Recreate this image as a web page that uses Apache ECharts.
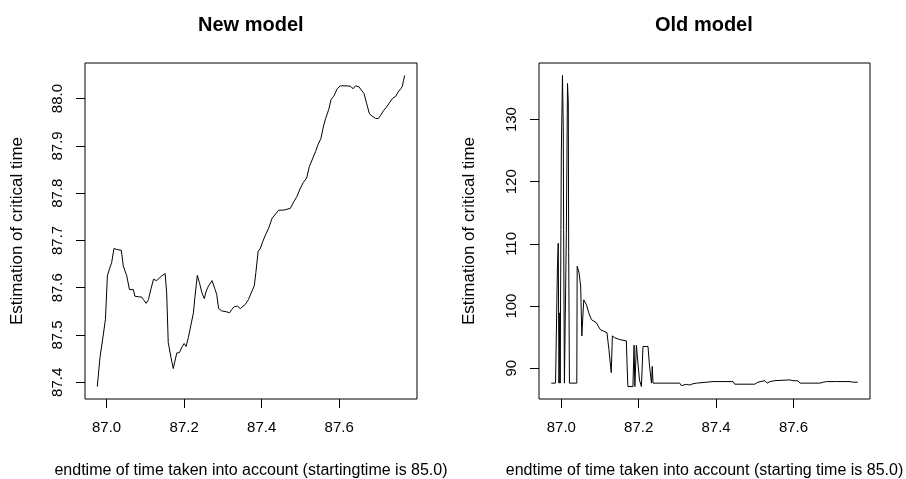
<!DOCTYPE html>
<html>
<head>
<meta charset="utf-8">
<script src="https://cdn.jsdelivr.net/npm/echarts@6/dist/echarts.min.js"></script>
<style>html,body{margin:0;padding:0;background:#fff}#c{width:906px;height:479px}</style>
</head>
<body>
<div id="c"></div>
<script>
// New model
const newX = [86.976,86.983,86.991,86.997,87.002,87.007,87.013,87.019,87.026,87.038,87.043,87.052,87.059,87.062,87.069,87.073,87.082,87.091,87.095,87.102,87.108,87.114,87.121,87.129,87.142,87.151,87.155,87.159,87.166,87.172,87.181,87.188,87.194,87.200,87.205,87.211,87.217,87.224,87.228,87.234,87.240,87.246,87.252,87.257,87.263,87.272,87.280,87.284,87.289,87.297,87.310,87.317,87.323,87.329,87.338,87.345,87.349,87.358,87.366,87.375,87.381,87.385,87.391,87.397,87.403,87.410,87.418,87.427,87.434,87.444,87.453,87.461,87.474,87.483,87.491,87.500,87.507,87.516,87.523,87.530,87.539,87.545,87.553,87.559,87.565,87.573,87.579,87.586,87.595,87.603,87.621,87.629,87.636,87.642,87.651,87.657,87.664,87.671,87.678,87.685,87.694,87.701,87.707,87.714,87.722,87.728,87.737,87.746,87.752,87.759,87.763,87.766,87.769];
const newY = [87.391,87.453,87.498,87.533,87.625,87.639,87.653,87.683,87.681,87.679,87.646,87.625,87.596,87.593,87.596,87.582,87.581,87.580,87.575,87.567,87.575,87.596,87.618,87.615,87.625,87.630,87.589,87.484,87.453,87.429,87.462,87.463,87.474,87.482,87.476,87.495,87.519,87.547,87.582,87.626,87.609,87.589,87.577,87.593,87.604,87.615,87.596,87.586,87.556,87.551,87.549,87.547,87.554,87.560,87.561,87.556,87.556,87.565,87.575,87.593,87.604,87.632,87.677,87.684,87.698,87.712,87.726,87.747,87.754,87.764,87.764,87.765,87.768,87.782,87.793,87.811,87.822,87.832,87.856,87.870,87.888,87.902,87.916,87.940,87.958,87.977,87.998,88.005,88.021,88.027,88.027,88.026,88.021,88.027,88.025,88.018,88.011,87.989,87.968,87.963,87.958,87.958,87.965,87.974,87.982,87.989,88.000,88.005,88.014,88.021,88.026,88.039,88.049];
// Old model
const oldX = [86.974,86.985,86.986,86.988,86.990,86.992,86.994,86.996,86.997,86.999,87.000,87.003,87.005,87.006,87.008,87.011,87.013,87.016,87.018,87.019,87.021,87.040,87.041,87.046,87.050,87.053,87.058,87.065,87.071,87.078,87.091,87.095,87.101,87.108,87.118,87.123,87.129,87.132,87.138,87.151,87.168,87.170,87.172,87.185,87.188,87.190,87.194,87.198,87.202,87.207,87.211,87.224,87.228,87.233,87.235,87.237,87.306,87.310,87.323,87.332,87.340,87.349,87.392,87.444,87.448,87.500,87.508,87.513,87.526,87.532,87.539,87.552,87.590,87.599,87.603,87.612,87.617,87.651,87.655,87.668,87.677,87.685,87.711,87.715,87.746,87.750,87.754,87.766];
const oldY = [87.6,87.6,91.0,98.9,106.3,110.1,87.6,98.9,87.6,112.3,124.6,137.1,128.8,112.3,87.6,87.6,111.7,135.8,132.8,108.8,87.6,87.6,106.4,105.3,103.2,95.2,101.0,100.2,98.9,97.8,97.3,96.8,96.2,96.0,95.7,93.0,89.3,95.2,94.9,94.6,94.4,90.5,87.05,87.05,93.7,87.05,93.7,90.8,88.1,87.05,93.5,93.5,90.3,87.6,90.3,87.6,87.6,87.2,87.4,87.3,87.5,87.6,87.85,87.85,87.43,87.43,87.75,87.6,88.0,87.6,87.85,88.0,88.12,88.0,88.17,87.96,87.6,87.6,87.85,87.6,87.75,87.85,87.85,87.96,87.85,88.0,87.75,87.75];

const xTicks = [87.0, 87.2, 87.4, 87.6];
const newYTicks = [87.4, 87.5, 87.6, 87.7, 87.8, 87.9, 88.0];
const oldYTicks = [90, 100, 110, 120, 130];

const titles = ['New model', 'Old model'];
const xTitles = ['endtime of time taken into account (startingtime is 85.0)',
                 'endtime of time taken into account (starting time is 85.0)'];
const yTitle = 'Estimation of critical time';

function ext(arr) {
  const mn = Math.min(...arr), mx = Math.max(...arr), r = mx - mn;
  return [mn - 0.04 * r, mx + 0.04 * r];
}
const FONT = 'Liberation Sans';
const [nx0, nx1] = ext(newX), [ny0, ny1] = ext(newY);
const [ox0, ox1] = ext(oldX), [oy0, oy1] = ext(oldY);

function xAxis(i, mn, mx, name) {
  return {
    type: 'value', gridIndex: i, min: mn, max: mx, position: 'bottom',
    splitLine: {show: false}, axisLine: {show: false},
    axisTick: {show: true, customValues: xTicks, length: 9, lineStyle: {color: '#000', width: 1}},
    axisLabel: {customValues: xTicks, margin: 21, color: '#000', fontFamily: FONT, fontSize: 15,
                formatter: v => v.toFixed(1)},
    name: name, nameLocation: 'middle', nameGap: 64,
    nameTextStyle: {color: '#000', fontFamily: FONT, fontSize: 16}
  };
}
function yAxis(i, mn, mx, ticks, dec, gap, lblMargin) {
  return {
    type: 'value', gridIndex: i, min: mn, max: mx,
    splitLine: {show: false}, axisLine: {show: false},
    axisTick: {show: true, customValues: ticks, length: 9, lineStyle: {color: '#000', width: 1}},
    axisLabel: {customValues: ticks, rotate: 90, margin: lblMargin, color: '#000', fontFamily: FONT, fontSize: 15,
                formatter: v => v.toFixed(dec)},
    name: yTitle, nameLocation: 'middle', nameGap: gap, nameRotate: 90,
    nameTextStyle: {color: '#000', fontFamily: FONT, fontSize: 17}
  };
}

const chart = echarts.init(document.getElementById('c'), null, {renderer: 'canvas'});
chart.setOption({
  animation: false,
  backgroundColor: '#fff',
  title: [
    {text: titles[0], left: 198, top: 15, padding: 0,
     textStyle: {fontFamily: FONT, fontWeight: 'bold', fontSize: 20, color: '#000'}},
    {text: titles[1], left: 655, top: 15, padding: 0,
     textStyle: {fontFamily: FONT, fontWeight: 'bold', fontSize: 20, color: '#000'}}
  ],
  grid: [
    {left: 85, top: 63, width: 332, height: 336, show: true, borderColor: '#000', borderWidth: 1, containLabel: false, outerBoundsMode: 'none'},
    {left: 539, top: 63, width: 331, height: 336, show: true, borderColor: '#000', borderWidth: 1, containLabel: false, outerBoundsMode: 'none'}
  ],
  xAxis: [xAxis(0, nx0, nx1, xTitles[0]), xAxis(1, ox0, ox1, xTitles[1])],
  yAxis: [yAxis(0, ny0, ny1, newYTicks, 1, 59, 20), yAxis(1, oy0, oy1, oldYTicks, 0, 61, 20)],
  series: [
    {type: 'line', xAxisIndex: 0, yAxisIndex: 0, showSymbol: false, symbol: 'none',
     lineStyle: {color: '#000', width: 1}, data: newX.map((x, i) => [x, newY[i]])},
    {type: 'line', xAxisIndex: 1, yAxisIndex: 1, showSymbol: false, symbol: 'none',
     lineStyle: {color: '#000', width: 1}, data: oldX.map((x, i) => [x, oldY[i]])}
  ]
});
</script>
</body>
</html>
